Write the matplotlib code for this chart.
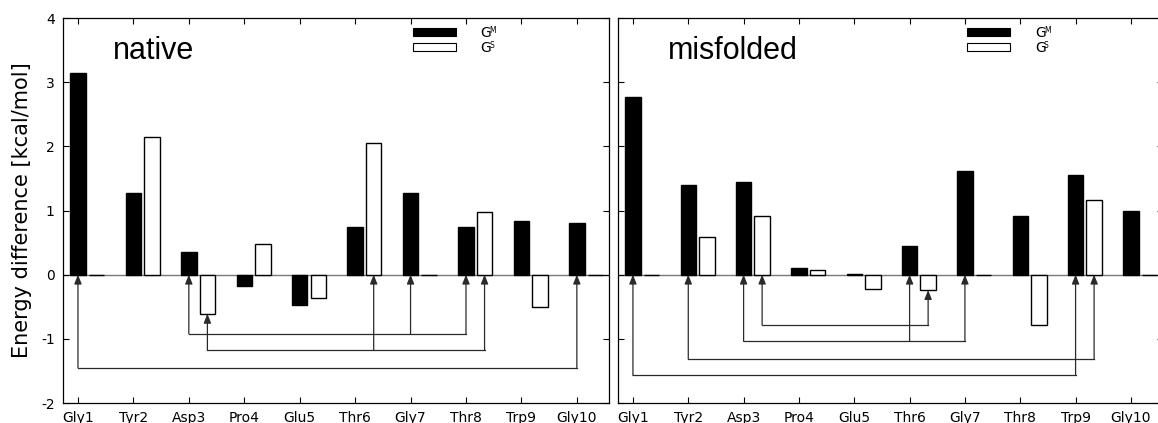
import matplotlib
matplotlib.use('Agg')
import matplotlib.pyplot as plt
from matplotlib.patches import Rectangle

# ── data ─────────────────────────────────────────────────────────────────────
RESIDUES = ['Gly1', 'Tyr2', 'Asp3', 'Pro4', 'Glu5',
            'Thr6', 'Gly7', 'Thr8', 'Trp9', 'Gly10']

NATIVE_GM = [3.15, 1.28, 0.35, -0.18, -0.48, 0.75, 1.27, 0.75, 0.84, 0.81]
NATIVE_GS = [0.00, 2.14, -0.61, 0.48, -0.37, 2.05, 0.00, 0.98, -0.51, 0.00]

MISF_GM = [2.77, 1.39, 1.45, 0.10, 0.01, 0.45, 1.62, 0.92, 1.56, 1.00]
MISF_GS = [0.00, 0.58, 0.92, 0.08, -0.22, -0.24, 0.00, -0.79, 1.16, 0.00]

# links: (level of the connecting line, [(residue index, series), ...])
NATIVE_LINKS = [
    (-0.92, [(2, 'M'), (6, 'M'), (7, 'M')]),
    (-1.17, [(2, 'S'), (5, 'S'), (7, 'S')]),
    (-1.45, [(0, 'M'), (9, 'M')]),
]
MISF_LINKS = [
    (-0.78, [(2, 'S'), (5, 'S')]),
    (-1.04, [(2, 'M'), (5, 'M'), (6, 'M')]),
    (-1.31, [(1, 'M'), (8, 'S')]),
    (-1.57, [(0, 'M'), (8, 'M')]),
]

# ── style ────────────────────────────────────────────────────────────────────
BAR_W    = 0.28
S_OFFSET = 0.335
LINE_C   = '#2a2a2a'

plt.rcParams['font.family'] = 'DejaVu Sans'
plt.rcParams['axes.unicode_minus'] = False


def key_entry(ax, y, sup, filled):
    ax.add_patch(Rectangle((0.641, y), 0.079, 0.021, transform=ax.transAxes,
                           facecolor='black' if filled else 'white',
                           edgecolor='black', lw=0.8, zorder=5))
    ax.text(0.765, y - 0.002, 'G', transform=ax.transAxes,
            fontsize=10, va='baseline', ha='left')
    ax.text(0.7815, y + 0.010, sup, transform=ax.transAxes,
            fontsize=5.5, va='baseline', ha='left')


def draw_panel(ax, gm, gs, links, title):
    x = list(range(len(RESIDUES)))
    xs = [i + S_OFFSET for i in x]

    ax.axhline(0, color='#7a7a7a', lw=1.0, zorder=1)
    ax.bar(x, gm, width=BAR_W, color='black', edgecolor='black', lw=1.0, zorder=3)
    ax.bar(xs, gs, width=BAR_W, color='white', edgecolor='black', lw=1.0, zorder=3)

    for level, members in links:
        pos = []
        for idx, ser in members:
            if ser == 'M':
                px, val = x[idx], gm[idx]
            else:
                px, val = xs[idx], gs[idx]
            pos.append(px)
            ax.annotate('', xy=(px, min(val, 0)), xytext=(px, level),
                        arrowprops=dict(arrowstyle='-|>,head_length=0.55,head_width=0.22',
                                        color=LINE_C, lw=0.9, shrinkA=0, shrinkB=0,
                                        mutation_scale=10),
                        zorder=4)
        ax.plot([min(pos), max(pos)], [level, level], color=LINE_C, lw=0.9, zorder=4)

    ax.set_xlim(-0.27, 9.58)
    ax.set_ylim(-2, 4)
    ax.set_xticks(x)
    ax.set_xticklabels(RESIDUES, fontsize=10)
    ax.set_yticks([-2, -1, 0, 1, 2, 3, 4])
    ax.tick_params(direction='in', top=True, right=True, length=4.5, width=0.8,
                   labelsize=10, pad=6)
    for sp in ax.spines.values():
        sp.set_linewidth(0.9)

    ax.text(0.0916, 0.893, title, transform=ax.transAxes, fontsize=22,
            family='Liberation Sans', ha='left', va='baseline')

    key_entry(ax, 0.952, 'M', True)
    key_entry(ax, 0.913, 'S', False)


fig = plt.figure(figsize=(11.58, 4.23), dpi=100)
ax1 = fig.add_axes([63 / 1158, 1 - 403 / 423, 546 / 1158, 385 / 423])
ax2 = fig.add_axes([618 / 1158, 1 - 403 / 423, 545 / 1158, 385 / 423])

draw_panel(ax1, NATIVE_GM, NATIVE_GS, NATIVE_LINKS, 'native')
draw_panel(ax2, MISF_GM, MISF_GS, MISF_LINKS, 'misfolded')

ax1.set_ylabel('Energy difference [kcal/mol]', fontsize=15)
ax1.yaxis.set_label_coords(-0.057, 0.5)
ax2.set_yticklabels([])

fig.savefig('out.png', dpi=100)
